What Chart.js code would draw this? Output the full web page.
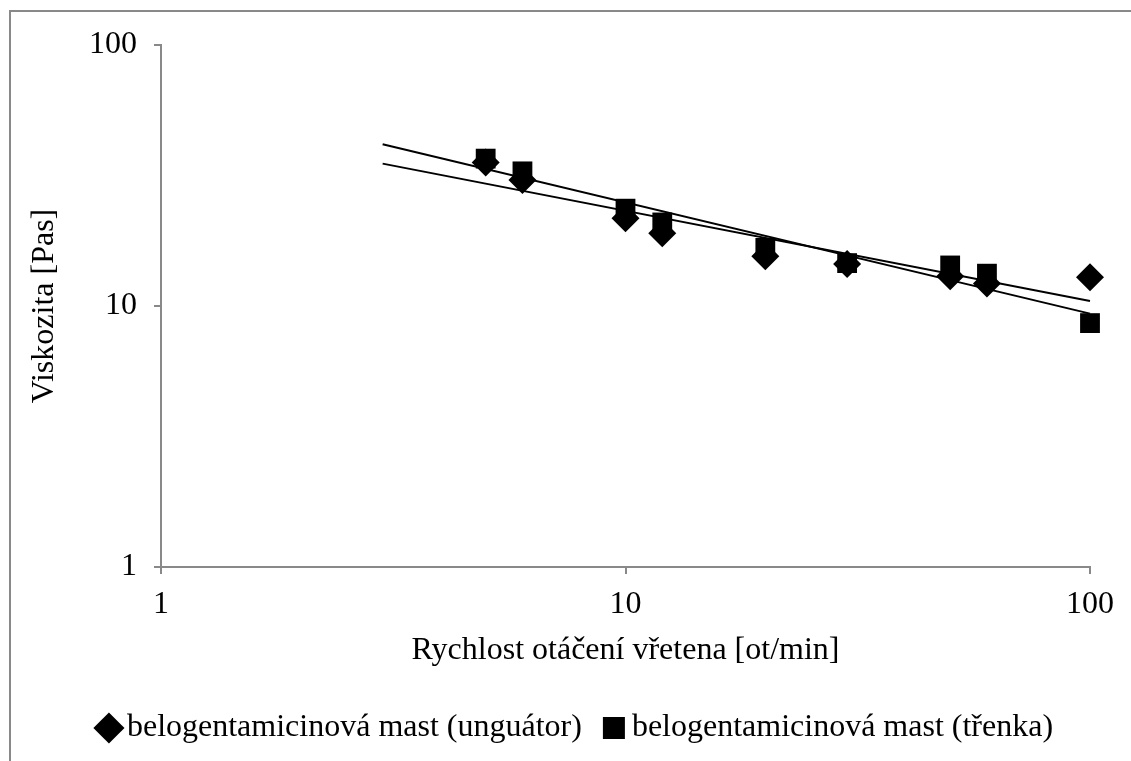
<!DOCTYPE html>
<html>
<head>
<meta charset="utf-8">
<script src="https://cdn.jsdelivr.net/npm/chart.js@4.4.1/dist/chart.umd.min.js"></script>
<style>
  html, body { margin: 0; padding: 0; background: #ffffff; }
  canvas { display: block; }
</style>
</head>
<body>
<canvas id="chart" width="1131" height="761"></canvas>
<script>
// Spindle speed [rpm] and measured viscosity [Pa·s] of the two ointment preparations
const speeds = [5, 6, 10, 12, 20, 30, 50, 60, 100];
const unguator = [35.5, 30.4, 21.7, 19.0, 15.5, 14.5, 13.0, 12.2, 12.9];
const trenka = [36.7, 32.8, 23.6, 20.9, 16.7, 14.6, 14.3, 13.3, 8.6];

// Power-law trendlines are drawn over this speed range
const trendFrom = 3;
const trendTo = 100;

const xTicks = [1, 10, 100];
const yTicks = [1, 10, 100];

const seriesNames = ['belogentamicinová mast (unguátor)', 'belogentamicinová mast (třenka)'];
const xTitle = 'Rychlost otáčení vřetena [ot/min]';
const yTitle = 'Viskozita [Pas]';

const FONT = 'Liberation Serif, Times New Roman, serif';
const FONT_SIZE = 32;
const AXIS_GREY = '#898989';
const PAD_LEFT = 70;

// Least squares on log-log data: y = a * x^b
function powerFit(xs, ys) {
  const lx = xs.map(Math.log10), ly = ys.map(Math.log10);
  const n = lx.length;
  const mx = lx.reduce((s, v) => s + v, 0) / n;
  const my = ly.reduce((s, v) => s + v, 0) / n;
  let sxy = 0, sxx = 0;
  for (let i = 0; i < n; i++) {
    sxy += (lx[i] - mx) * (ly[i] - my);
    sxx += (lx[i] - mx) * (lx[i] - mx);
  }
  const b = sxy / sxx;
  const loga = my - b * mx;
  return x => Math.pow(10, loga + b * Math.log10(x));
}

const toPoints = ys => speeds.map((x, i) => ({ x, y: ys[i] }));
const trendPoints = ys => {
  const f = powerFit(speeds, ys);
  return [trendFrom, trendTo].map(x => ({ x, y: f(x) }));
};

// Grey frame around the whole chart
const frame = {
  id: 'frame',
  beforeDraw(chart) {
    const ctx = chart.ctx;
    ctx.save();
    ctx.fillStyle = '#ffffff';
    ctx.fillRect(0, 0, chart.width, chart.height);
    ctx.strokeStyle = AXIS_GREY;
    ctx.lineWidth = 2;
    ctx.strokeRect(10, 11, chart.width + 20, chart.height + 20);
    ctx.restore();
  }
};

const fixedTicks = values => scale => {
  scale.ticks = values.map(v => ({ value: v }));
};

const textFont = { family: FONT, size: FONT_SIZE };

new Chart(document.getElementById('chart'), {
  type: 'scatter',
  data: {
    datasets: [
      {
        label: seriesNames[0],
        data: toPoints(unguator),
        pointStyle: 'rectRot',
        pointRadius: 14,
        pointHoverRadius: 14,
        backgroundColor: '#000000',
        borderColor: '#000000',
        borderWidth: 0,
        clip: false,
        order: 2
      },
      {
        label: seriesNames[1],
        data: toPoints(trenka),
        pointStyle: 'rect',
        pointRadius: 14,
        pointHoverRadius: 14,
        backgroundColor: '#000000',
        borderColor: '#000000',
        borderWidth: 0,
        clip: false,
        order: 1
      },
      {
        label: 'trend-unguator',
        data: trendPoints(unguator),
        showLine: true,
        borderColor: '#000000',
        borderWidth: 2,
        pointRadius: 0,
        clip: false,
        order: 0
      },
      {
        label: 'trend-trenka',
        data: trendPoints(trenka),
        showLine: true,
        borderColor: '#000000',
        borderWidth: 2,
        pointRadius: 0,
        clip: false,
        order: 0
      }
    ]
  },
  options: {
    responsive: false,
    animation: false,
    layout: { padding: { left: PAD_LEFT, right: 41, top: 45, bottom: 7 } },
    scales: {
      x: {
        type: 'logarithmic',
        min: 1,
        max: 100,
        afterBuildTicks: fixedTicks(xTicks),
        afterFit: s => { s.height = 115; },
        grid: { drawOnChartArea: false, drawTicks: true, tickLength: 7, color: AXIS_GREY, lineWidth: 2 },
        border: { color: AXIS_GREY, width: 2 },
        ticks: {
          font: textFont,
          color: '#000000',
          padding: 11,
          maxRotation: 0,
          autoSkip: false,
          callback: v => String(v)
        },
        title: {
          display: true,
          text: xTitle,
          font: textFont,
          color: '#000000',
          padding: { top: 0, bottom: 11.8 }
        }
      },
      y: {
        type: 'logarithmic',
        min: 1,
        max: 100,
        afterBuildTicks: fixedTicks(yTicks),
        afterFit: s => { s.width = 161 - PAD_LEFT; },
        grid: { drawOnChartArea: false, drawTicks: true, tickLength: 7, color: AXIS_GREY, lineWidth: 2 },
        border: { color: AXIS_GREY, width: 2 },
        ticks: {
          font: textFont,
          color: '#000000',
          padding: 17,
          autoSkip: false,
          callback: v => String(v)
        },
        title: {
          display: true,
          text: yTitle,
          font: textFont,
          color: '#000000',
          padding: { top: 45 - PAD_LEFT - FONT_SIZE * 0.6, bottom: 0 }
        }
      }
    },
    plugins: {
      tooltip: { enabled: false },
      legend: {
        position: 'bottom',
        labels: {
          font: textFont,
          color: '#000000',
          usePointStyle: true,
          boxWidth: 4,
          boxHeight: 22,
          padding: 30,
          filter: item => item.datasetIndex < 2,
          sort: (a, b) => a.datasetIndex - b.datasetIndex
        }
      }
    }
  },
  plugins: [frame]
});
</script>
</body>
</html>
